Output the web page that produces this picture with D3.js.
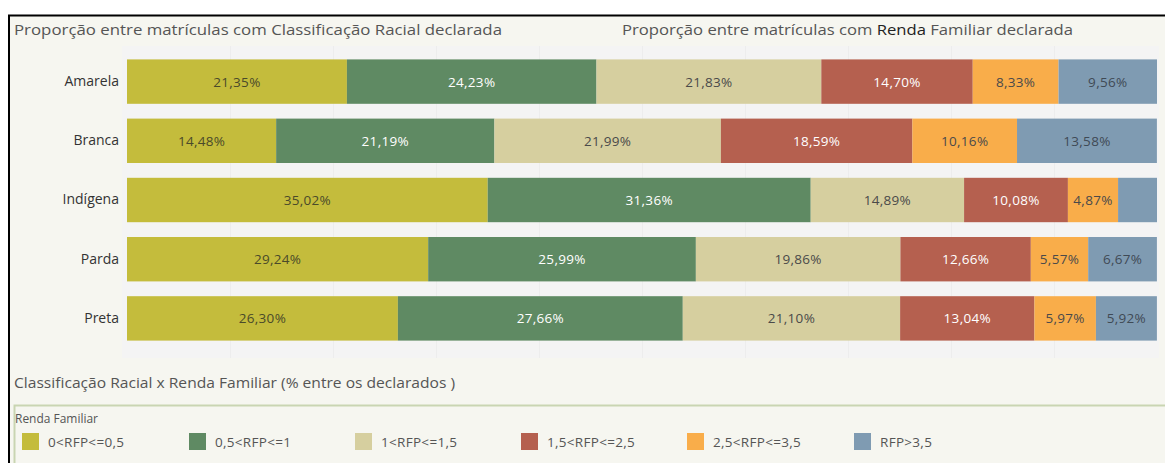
<!DOCTYPE html>
<html><head><meta charset="utf-8">
<script src="https://cdn.jsdelivr.net/npm/d3@7"></script>
<style>
html,body{margin:0;padding:0;background:#fff;}
svg{display:block;font-family:"Open Sans",sans-serif;}
</style></head>
<body><svg id="c" width="1165" height="463"></svg>
<script>
const categories = ["Amarela","Branca","Indígena","Parda","Preta"];
const seriesNames = ["0<RFP<=0,5","0,5<RFP<=1","1<RFP<=1,5","1,5<RFP<=2,5","2,5<RFP<=3,5","RFP>3,5"];
const s1 = [21.35,14.48,35.02,29.24,26.30];
const s2 = [24.23,21.19,31.36,25.99,27.66];
const s3 = [21.83,21.99,14.89,19.86,21.10];
const s4 = [14.70,18.59,10.08,12.66,13.04];
const s5 = [8.33,10.16,4.87,5.57,5.97];
const s6 = [9.56,13.58,3.78,6.67,5.92];
const showLabel = [[1,1,1,1,1],[1,1,1,1,1],[1,1,1,1,1],[1,1,1,1,1],[1,1,1,1,1],[1,1,0,1,1]];
const colors = ["#c4bc3c","#5f8a63","#d6cf9f","#b5604f","#f9ad4a","#7f9bb2"];
const textColors = ["#4a4a2a","#ffffff","#4a4a4a","#ffffff","#4a4a4a","#3f4a55"];
const series = [s1,s2,s3,s4,s5,s6];

const svg = d3.select("#c");
svg.append("rect").attr("x",0).attr("y",0).attr("width",1165).attr("height",463).attr("fill","#ffffff");
svg.append("rect").attr("x",9).attr("y",16).attr("width",1156).attr("height",447).attr("fill","#f6f6f0");
svg.append("line").attr("x1",8).attr("x2",1165).attr("y1",15.5).attr("y2",15.5).attr("stroke","#000").attr("stroke-width",2);
svg.append("line").attr("x1",9).attr("x2",9).attr("y1",15).attr("y2",463).attr("stroke","#000").attr("stroke-width",2);

const x = d3.scaleLinear().domain([0,100]).range([127,1157]);
const y = d3.scaleBand().domain(categories).range([52,348]).paddingInner(0.25).paddingOuter(0.125);
svg.append("rect").attr("x",122).attr("y",46).attr("width",1037).attr("height",312).attr("fill","#f4f4f4");
svg.append("g").selectAll("line").data(d3.range(10,100,10)).join("line")
  .attr("x1",d=>x(d)+0.5).attr("x2",d=>x(d)+0.5).attr("y1",46).attr("y2",358)
  .attr("stroke","#ededed").attr("stroke-width",1);

svg.append("text").attr("x",14).attr("y",35).attr("font-size",14.5).attr("fill","#555")
  .attr("textLength",488).attr("lengthAdjust","spacingAndGlyphs")
  .text("Proporção entre matrículas com Classificação Racial declarada");
const t2 = svg.append("text").attr("x",622).attr("y",35).attr("font-size",14.5).attr("fill","#555")
  .attr("textLength",451).attr("lengthAdjust","spacingAndGlyphs");
t2.append("tspan").text("Proporção entre matrículas com ");
t2.append("tspan").attr("fill","#222").text("Renda");
t2.append("tspan").text(" Familiar declarada");

const rows = categories.map((c,i)=>{const o={cat:c}; seriesNames.forEach((s,j)=>o[s]=series[j][i]); return o;});
const stack = d3.stack().keys(seriesNames)(rows);
const g = svg.append("g");
stack.forEach((layer,j)=>{
  const lg = g.append("g");
  lg.selectAll("rect").data(layer).join("rect")
    .attr("x",d=>x(d[0])).attr("width",d=>x(d[1])-x(d[0]))
    .attr("y",d=>y(d.data.cat)).attr("height",y.bandwidth())
    .attr("fill",colors[j]);
  lg.selectAll("text").data(layer.filter((d,i)=>showLabel[j][i])).join("text")
    .attr("x",d=>(x(d[0])+x(d[1]))/2).attr("y",d=>y(d.data.cat)+y.bandwidth()/2+5)
    .attr("text-anchor","middle").attr("font-size",13.5).attr("letter-spacing",0.3).attr("fill",textColors[j])
    .text(d=>d3.format(".2f")(d[1]-d[0]).replace(".",",")+"%");
});
const yAxis = d3.axisLeft(y).tickSize(0).tickPadding(6);
const ya = svg.append("g").attr("transform","translate(125,0)").call(yAxis);
ya.select(".domain").remove();
ya.selectAll("text").attr("font-size",14).attr("fill","#333").attr("font-family","'Open Sans',sans-serif");

svg.append("text").attr("x",14).attr("y",388).attr("font-size",14.5).attr("fill","#555")
  .attr("textLength",441).attr("lengthAdjust","spacingAndGlyphs")
  .text("Classificação Racial x Renda Familiar (% entre os declarados )");
svg.append("rect").attr("x",14.5).attr("y",405.5).attr("width",1160).attr("height",60).attr("fill","none").attr("stroke","#c9d5b2").attr("stroke-width",2);
svg.append("text").attr("x",15).attr("y",423).attr("font-size",13.5).attr("fill","#555")
  .attr("textLength",83).attr("lengthAdjust","spacingAndGlyphs").text("Renda Familiar");
const lx = [22,189,355,521,687,854];
const leg = svg.append("g").selectAll("g").data(seriesNames).join("g")
  .attr("transform",(d,i)=>`translate(${lx[i]},433)`);
leg.append("rect").attr("width",17).attr("height",17).attr("fill",(d,i)=>colors[i]);
leg.append("text").attr("x",26).attr("y",13.5).attr("font-size",13.5).attr("letter-spacing",0.3).attr("fill","#555").text(d=>d);
</script></body></html>
